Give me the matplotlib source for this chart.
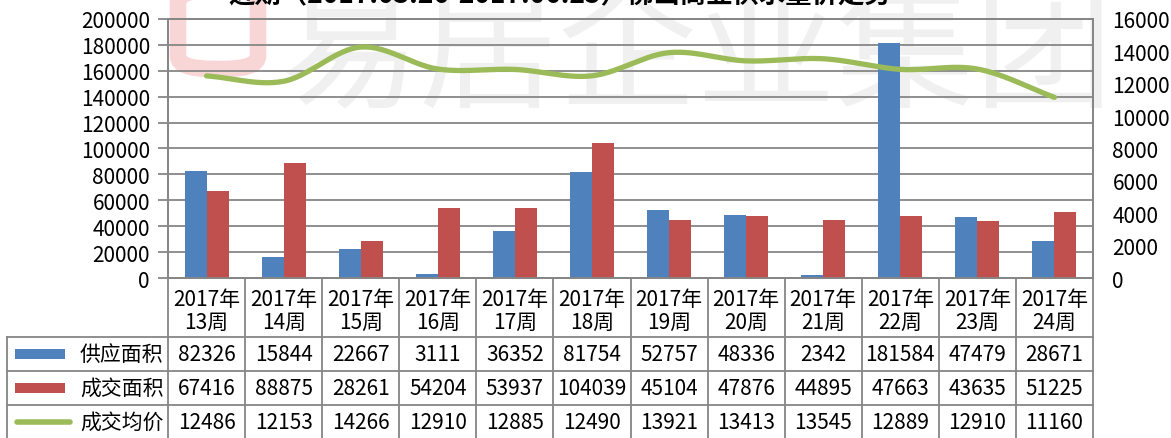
import numpy as np
import matplotlib
matplotlib.use("Agg")
import matplotlib.pyplot as plt
from matplotlib.transforms import blended_transform_factory
from matplotlib.patches import Rectangle, FancyBboxPatch

plt.rcParams['font.family'] = ['Noto Sans CJK SC', 'DejaVu Sans']

# data
weeks = ['13周', '14周', '15周', '16周', '17周', '18周', '19周', '20周', '21周', '22周', '23周', '24周']
year = '2017年'
supply = [82326, 15844, 22667, 3111, 36352, 81754, 52757, 48336, 2342, 181584, 47479, 28671]
deal = [67416, 88875, 28261, 54204, 53937, 104039, 45104, 47876, 44895, 47663, 43635, 51225]
price = [12486, 12153, 14266, 12910, 12885, 12490, 13921, 13413, 13545, 12889, 12910, 11160]
series_names = ['供应面积', '成交面积', '成交均价']
title = '近期（2017.03.26-2017.06.25）佛山商业供求量价走势'

blue = '#4F81BD'
red = '#C0504D'
green = '#9BBB59'
gray = '#868686'

W, H = 1171, 439
fig = plt.figure(figsize=(W / 100, H / 100), dpi=100)

# faint watermark behind everything
fig.text(0.24, 1.03, '易居企业集团', fontsize=100, color='#f0f0f0', ha='left', va='top',
         zorder=-5)
fig.patches.append(FancyBboxPatch((178 / W, 1 - 70 / H), 80 / W, 80 / H,
                                  boxstyle='round,pad=0.0,rounding_size=0.03',
                                  transform=fig.transFigure, fill=False,
                                  edgecolor='#f9d6d6', lw=12, zorder=-5))

fig.text(0.478, 1 - 9 / H, title, fontsize=19, fontweight='bold', ha='center', va='bottom')

ax = fig.add_axes([168 / W, 1 - 279 / H, (1093 - 168) / W, 259 / H])
ax.set_facecolor('none')
x = np.arange(len(weeks))
bw = 0.285
ax.bar(x - bw / 2, supply, bw, color=blue, zorder=3)
ax.bar(x + bw / 2, deal, bw, color=red, zorder=3)
ax.set_xlim(-0.5, len(weeks) - 0.5)
ax.set_ylim(0, 200000)
ax.set_yticks(np.arange(0, 200001, 20000))
ax.yaxis.grid(True, color=gray, lw=1.3, zorder=1)
ax.set_xticks([])
ax.tick_params(axis='y', length=7, width=1.3, color=gray, labelsize=15, pad=6)
for s in ax.spines.values():
    s.set_color(gray)
    s.set_linewidth(1.3)

ax2 = ax.twinx()
ax2.set_ylim(0, 16000)
ax2.set_yticks(np.arange(0, 16001, 2000))
ax2.tick_params(axis='y', length=0, labelsize=15, pad=14)
for s in ax2.spines.values():
    s.set_color(gray)
    s.set_linewidth(1.3)

# smooth line through the points (Catmull-Rom, like Excel smoothing)
px = np.array(x, dtype=float)
py = np.array(price, dtype=float)
ex = np.concatenate([[2 * px[0] - px[1]], px, [2 * px[-1] - px[-2]]])
ey = np.concatenate([[2 * py[0] - py[1]], py, [2 * py[-1] - py[-2]]])
sx, sy = [], []
t = np.linspace(0, 1, 30)
for i in range(1, len(ex) - 2):
    for arr, out in ((ex, sx), (ey, sy)):
        p0, p1, p2, p3 = arr[i - 1], arr[i], arr[i + 1], arr[i + 2]
        out.extend(0.5 * (2 * p1 + (-p0 + p2) * t + (2 * p0 - 5 * p1 + 4 * p2 - p3) * t ** 2
                          + (-p0 + 3 * p1 - 3 * p2 + p3) * t ** 3))
ax2.plot(sx, sy, color=green, lw=3.8, solid_capstyle='round', zorder=4)

# data table below the plot
tr = blended_transform_factory(ax.transData, fig.transFigure)
ft = fig.transFigure
y_head_top = 1 - 279 / H
y_rows = [1 - 338 / H, 1 - 372 / H, 1 - 406 / H, 1 - 440 / H]
lc = dict(color=gray, lw=1.3, clip_on=False)

for xv in np.arange(-0.5, len(weeks), 1.0):
    ax.plot([xv, xv], [y_head_top, y_rows[-1]], transform=tr, **lc)
x_left = 7 / W
x_ax_right = 1093 / W
for yv in y_rows[:-1]:
    fig.add_artist(plt.Line2D([x_left, x_ax_right], [yv, yv], transform=ft, color=gray, lw=1.3))
fig.add_artist(plt.Line2D([x_left, x_left], [y_rows[0], y_rows[-1]], transform=ft, color=gray, lw=1.3))

for i, w in enumerate(weeks):
    ax.text(x[i], 1 - 300 / H, year, transform=tr, ha='center', va='center', fontsize=15)
    ax.text(x[i], 1 - 323 / H, w, transform=tr, ha='center', va='center', fontsize=15)

rows = [supply, deal, price]
colors = [blue, red, green]
for r, vals in enumerate(rows):
    yc = (y_rows[r] + y_rows[r + 1]) / 2
    for i, v in enumerate(vals):
        ax.text(x[i], yc, str(v), transform=tr, ha='center', va='center', fontsize=15)
    if r < 2:
        fig.add_artist(Rectangle((15 / W, yc - 5 / H), 50 / W, 10 / H, transform=ft,
                                 facecolor=colors[r], edgecolor='none'))
    else:
        fig.add_artist(plt.Line2D([17 / W, 70 / W], [yc, yc], transform=ft, color=green,
                                  lw=4, solid_capstyle='round'))
    fig.text(80 / W, yc, series_names[r], ha='left', va='center', fontsize=15)

fig.savefig('out.png', dpi=100)
